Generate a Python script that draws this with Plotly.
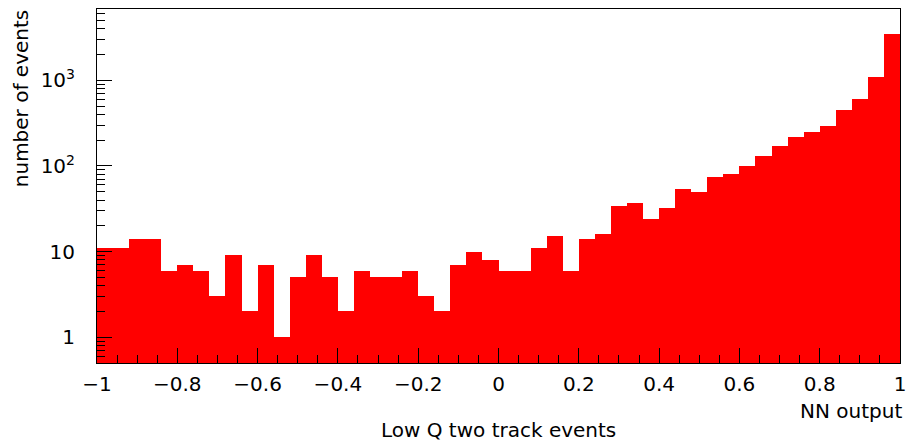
import numpy as np
import plotly.graph_objects as go

# NN output histogram: 50 bins from -1 to 1
bin_lo = -1.0
bin_hi = 1.0
n_bins = 50
counts = [11, 11, 14, 14, 6, 7, 6, 3, 9, 2,
          7, 1, 5, 9, 5, 2, 6, 5, 5, 6,
          3, 2, 7, 10, 8, 6, 6, 11, 15, 6,
          14, 16, 34, 37, 24, 32, 54, 49, 74, 80,
          99, 130, 169, 217, 247, 290, 449, 608, 1081, 3460]

x_ticks = [-1, -0.8, -0.6, -0.4, -0.2, 0, 0.2, 0.4, 0.6, 0.8, 1]
x_tick_text = ["\u22121", "\u22120.8", "\u22120.6", "\u22120.4", "\u22120.2",
               "0", "0.2", "0.4", "0.6", "0.8", "1"]
y_ticks = [1, 10, 100, 1000]
y_tick_text = ["1", "10", "10<sup>2</sup>", "10<sup>3</sup>"]

width = (bin_hi - bin_lo) / n_bins
centers = bin_lo + width * (np.arange(n_bins) + 0.5)

font = "DejaVu Sans"
fsize = 20
fig = go.Figure()
fig.add_trace(go.Bar(
    x=centers, y=counts, width=width,
    marker=dict(color="#ff0000", line=dict(width=0)),
    showlegend=False,
))

fig.update_layout(
    width=913, height=446,
    margin=dict(l=97, r=7, t=9, b=83),
    paper_bgcolor="white", plot_bgcolor="white",
    bargap=0,
    font=dict(family=font, size=fsize, color="black"),
    xaxis=dict(
        range=[bin_lo, bin_hi],
        tickvals=x_ticks, ticktext=x_tick_text,
        ticks="inside", ticklen=15, tickwidth=1, tickcolor="black",
        minor=dict(ticks="inside", ticklen=8, dtick=0.05, tickcolor="black", tickwidth=1),
        showline=True, linecolor="black", linewidth=1, mirror=True,
        showgrid=False, zeroline=False,
        tickfont=dict(family=font, size=fsize),
        ticklabelstandoff=3,
    ),
    yaxis=dict(
        type="log",
        range=[np.log10(0.5), 3.832],
        tickvals=y_ticks, ticktext=y_tick_text,
        ticks="inside", ticklen=15, tickwidth=1, tickcolor="black",
        minor=dict(ticks="inside", ticklen=8, dtick="D1", tickcolor="black", tickwidth=1),
        showline=True, linecolor="black", linewidth=1, mirror=True,
        showgrid=False, zeroline=False,
        tickfont=dict(family=font, size=fsize),
        ticklabelstandoff=17,
    ),
    annotations=[
        dict(text="number of events", xref="paper", yref="paper",
             x=-0.095, y=1.0, xanchor="center", yanchor="top", yshift=1,
             textangle=-90, showarrow=False, font=dict(family=font, size=fsize)),
        dict(text="NN output", xref="paper", yref="paper",
             x=1.0, y=-0.1356, xanchor="right", yanchor="middle", xshift=4,
             showarrow=False, font=dict(family=font, size=fsize)),
        dict(text="Low Q two track events", xref="paper", yref="paper",
             x=0.5, y=-0.189, xanchor="center", yanchor="middle",
             showarrow=False, font=dict(family=font, size=fsize)),
    ],
)

fig.write_html("out.html")
